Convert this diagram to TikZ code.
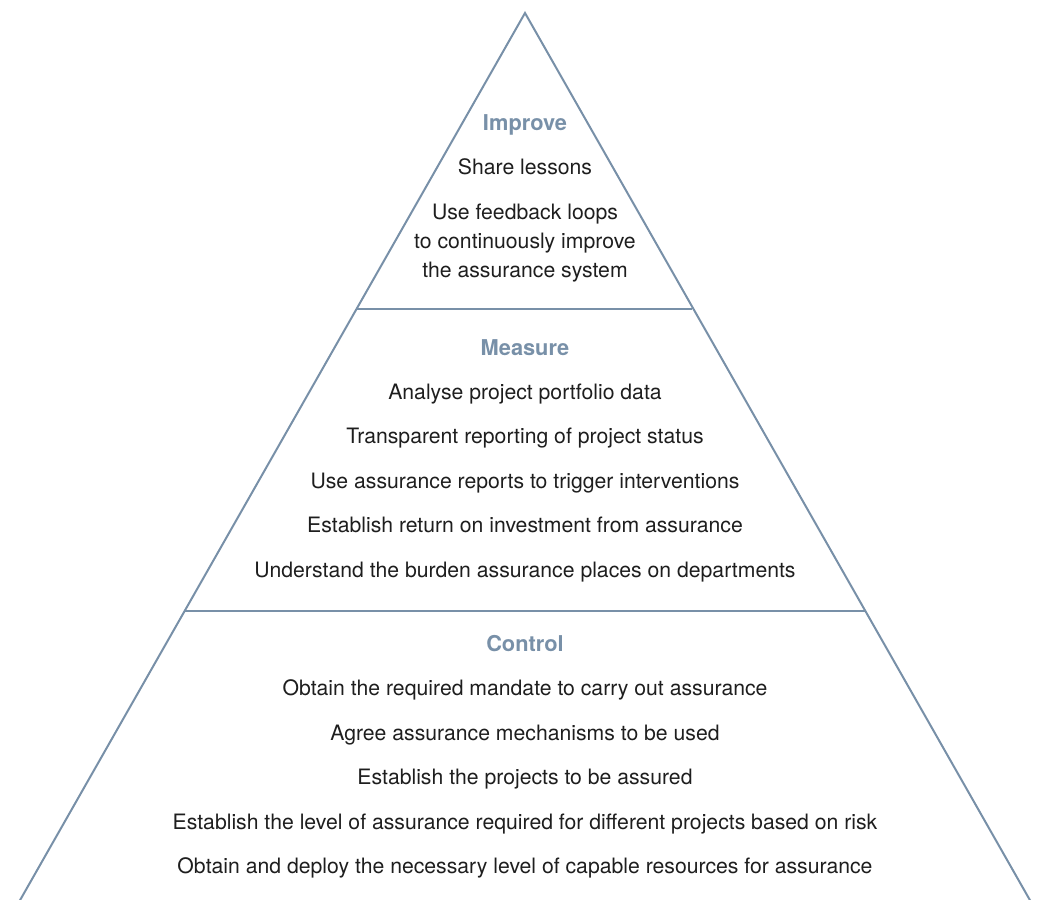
\documentclass[tikz,border=0pt]{standalone}
\usepackage{fontspec}
\setmainfont{TeX Gyre Heros}
\usepackage{tikz}
\usetikzlibrary{calc}
\definecolor{stahl}{HTML}{7890A8}
\definecolor{tinte}{HTML}{1E1E1E}
\tikzset{
  kante/.style={stahl,line width=1pt},
  titel/.style={stahl,font=\fontsize{10.9}{13}\selectfont\bfseries,anchor=base},
  zeile/.style={tinte,font=\fontsize{10.6}{13}\selectfont,anchor=base},
}

\begin{document}
\begin{tikzpicture}[x=0.5pt,y=-0.5pt]
  \useasboundingbox (0,0) rectangle (1040,900);
  % pyramid outline
  \coordinate (spitze) at (525,13);
  \coordinate (linksunten) at (19,902);
  \coordinate (rechtsunten) at (1031,902);
  \draw[kante] (linksunten)--(spitze)--(rechtsunten);
  \draw[kante] (357,309)--(692,309);
  \draw[kante] (185,611)--(865,611);
  % improve
  \node[titel] (improve) at (525,130) {Improve};
  \node[zeile] (lessons) at (525,174) {Share lessons};
  \node[zeile] (feedA) at (525,219) {Use feedback loops};
  \node[zeile] (feedB) at (525,248) {to continuously improve};
  \node[zeile] (feedC) at (525,277) {the assurance system};
  % measure
  \node[titel] (measure) at (525,355) {Measure};
  \node[zeile] (analyse) at (525,399) {Analyse project portfolio data};
  \node[zeile] (transp) at (525,443) {Transparent reporting of project status};
  \node[zeile] (trigger) at (525,488) {Use assurance reports to trigger interventions};
  \node[zeile] (roi) at (525,532) {Establish return on investment from assurance};
  \node[zeile] (burden) at (525,577) {Understand the burden assurance places on departments};
  % control
  \node[titel] (control) at (525,651) {Control};
  \node[zeile] (mandate) at (525,695) {Obtain the required mandate to carry out assurance};
  \node[zeile] (mech) at (525,740) {Agree assurance mechanisms to be used};
  \node[zeile] (projects) at (525,784) {Establish the projects to be assured};
  \node[zeile] (level) at (525,829) {Establish the level of assurance required for different projects based on risk};
  \node[zeile] (deploy) at (525,873) {Obtain and deploy the necessary level of capable resources for assurance};
\end{tikzpicture}
\end{document}
